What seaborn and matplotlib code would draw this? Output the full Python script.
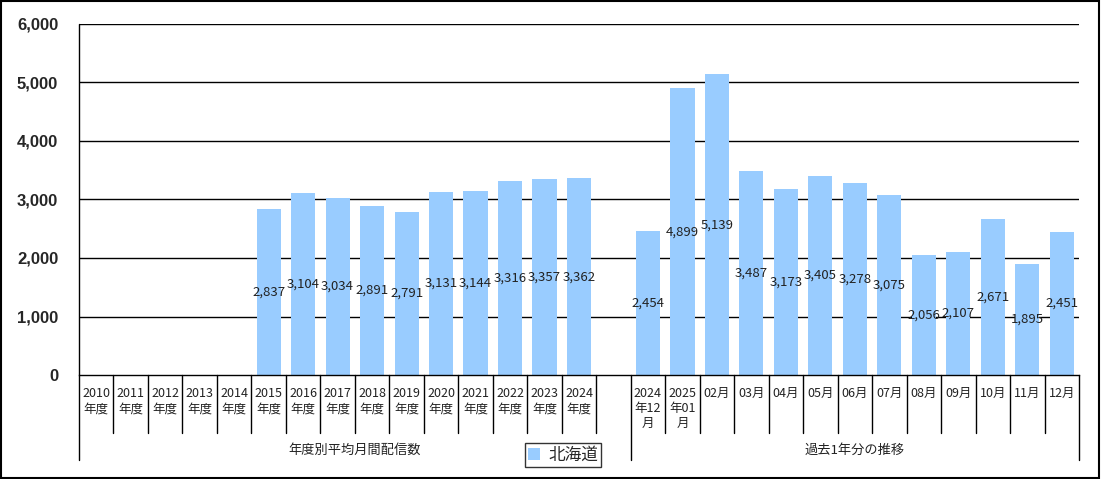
import numpy as np
import pandas as pd
import matplotlib
matplotlib.use("Agg")
import matplotlib.pyplot as plt
import matplotlib.transforms as mtransforms
from matplotlib.patches import Patch, Rectangle
import seaborn as sns

# ---- data ----
annual_labels = [f"{y}\n年度" for y in range(2010, 2025)]
annual_values = [np.nan, np.nan, np.nan, np.nan, np.nan,
                 2837, 3104, 3034, 2891, 2791, 3131, 3144, 3316, 3357, 3362]
monthly_labels = ["2024\n年12\n月", "2025\n年01\n月", "02月", "03月", "04月", "05月",
                  "06月", "07月", "08月", "09月", "10月", "11月", "12月"]
monthly_values = [2454, 4899, 5139, 3487, 3173, 3405, 3278, 3075, 2056, 2107, 2671, 1895, 2451]
group_labels = ["年度別平均月間配信数", "過去1年分の推移"]
series_name = "北海道"
yticks = [0, 1000, 2000, 3000, 4000, 5000, 6000]

sns.set_theme(style="white")
plt.rcParams['font.family'] = ['Noto Sans CJK JP', 'DejaVu Sans']

tick_labels = annual_labels + [""] + monthly_labels
values = annual_values + [np.nan] + monthly_values
cat_ids = [f"c{i}" for i in range(len(tick_labels))]
df = pd.DataFrame({"cat": cat_ids, "value": values})

bar_color = "#99CCFF"

fig = plt.figure(figsize=(11.01, 4.79), dpi=100)
ax = fig.add_axes([79/1101, 1-375/479, 1000/1101, 351/479])

sns.barplot(data=df.dropna(), x="cat", y="value", order=cat_ids, color=bar_color,
            width=0.7, saturation=1, ax=ax, errorbar=None, linewidth=0, edgecolor="none")

n = len(cat_ids)
ax.set_xlim(-0.5, n - 0.5)
ax.set_ylim(0, 6000)
ax.set_yticks(yticks)
ax.set_yticklabels([f"{v:,}" for v in yticks], fontsize=12, fontweight="bold",
                   family=['Liberation Sans'])
ax.tick_params(axis="y", length=0, pad=15)
ax.set_xticks([])
ax.set_xlabel("")
ax.set_ylabel("")
for s in ["right", "top", "left"]:
    ax.spines[s].set_visible(False)
ax.spines["bottom"].set_color("black")
ax.spines["bottom"].set_linewidth(1)

for v in yticks[1:]:
    ax.axhline(v, color="black", linewidth=1, zorder=0.5)

# data labels, centered in bar
for i, v in enumerate(values):
    if not np.isnan(v):
        ax.text(i, v / 2, f"{v:,.0f}", ha="center", va="center", fontsize=9.5,
                color="#222222")

trans = mtransforms.blended_transform_factory(ax.transData, ax.transAxes)
# category separators
short = -58/351
long_ = -85/351
group_bounds = [-0.5, 15.5, n - 0.5]
for k in range(n + 1):
    x = k - 0.5
    y0 = long_ if x in group_bounds else short
    top = 1.0 if x == -0.5 else 0.0
    ax.plot([x, x], [top, y0], transform=trans, color="black", linewidth=1, clip_on=False)

# tick labels
for i, lab in enumerate(tick_labels):
    if lab:
        ax.text(i, -12/351, lab, transform=trans, ha="center", va="top", fontsize=9,
                linespacing=1.22, color="#222222")

# group labels
ax.text(7.5, -75/351, group_labels[0], transform=trans, ha="center", va="center",
        fontsize=9.5, color="#222222")
ax.text(22.0, -75/351, group_labels[1], transform=trans, ha="center", va="center",
        fontsize=9.5, color="#222222")

leg = ax.legend(handles=[Patch(facecolor=bar_color, edgecolor="none", label=series_name)],
                loc="center", bbox_to_anchor=(563/1101, 1-455/479),
                bbox_transform=fig.transFigure, frameon=True, fancybox=False,
                fontsize=12, handlelength=0.7, handleheight=0.7, handletextpad=0.5,
                borderpad=0.2, borderaxespad=0)
leg.get_frame().set_edgecolor("black")
leg.get_frame().set_linewidth(1)

fig.patches.append(Rectangle((0.001, 0.002), 0.997, 0.996, transform=fig.transFigure,
                             fill=False, edgecolor="black", linewidth=1.5))

fig.savefig("out.png", dpi=100)
